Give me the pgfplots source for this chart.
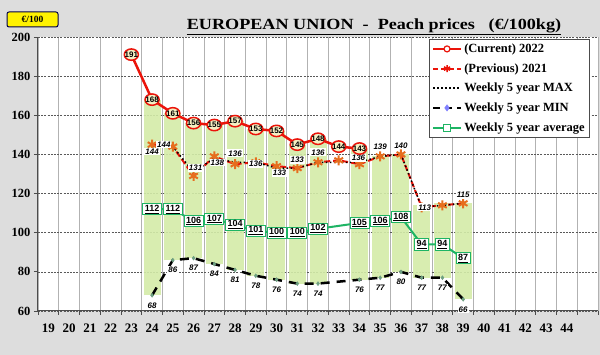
\documentclass[border=0pt]{standalone}
\usepackage{fontspec}
\setmainfont{Liberation Serif}
\newfontfamily\arial{Liberation Sans}
\usepackage{graphicx}
\usepackage{pgfplots}
\pgfplotsset{compat=1.18}
\definecolor{bg}{RGB}{221,221,221}
\definecolor{curred}{RGB}{235,20,10}
\definecolor{mfill}{RGB}{245,240,195}
\definecolor{prevorange}{RGB}{230,110,30}
\definecolor{avggreen}{RGB}{30,180,100}
\definecolor{bargreen}{RGB}{212,236,168}
\definecolor{mindiam}{RGB}{110,160,130}
\begin{document}
\begin{tikzpicture}
\fill[bg] (0,0) rectangle (600pt,355pt);
\useasboundingbox (0,0) rectangle (600pt,355pt);
\begin{axis}[
  at={(38pt,44pt)}, anchor=south west,
  scale only axis, width=560pt, height=274pt,
  xmin=18.5, xmax=45.5, ymin=60, ymax=200,
  axis background/.style={fill=white},
  axis x line*=bottom, axis y line*=left,
  axis line style={-, black!70, line width=1pt},
  xtick={18.5,19.5,...,45.5},
  xticklabels={19,20,21,22,23,24,25,26,27,28,29,30,31,32,33,34,35,36,37,38,39,40,41,42,43,44,{},{}},
  x tick label style={xshift=10.375pt, yshift=-5pt, font=\fontsize{13}{13}\selectfont\bfseries},
  y tick label style={font=\fontsize{12.5}{13}\selectfont\bfseries},
  ytick={60,80,...,200},
  tick align=outside, major tick length=4pt,
  tick style={black!70, line width=0.8pt},
  xmajorgrids, ymajorgrids,
  x grid style={black!30, line width=0.8pt, solid},
  y grid style={black!65, line width=0.6pt, dash pattern=on 2pt off 1.2pt},
  /pgf/number format/assume math mode=true,
  legend style={at={(0.698,0.993)}, anchor=north west, draw=black!70, line width=0.8pt, fill=white,
    font=\fontsize{12.5}{13}\selectfont\bfseries, row sep=5.5pt, inner sep=2.5pt},
  legend cell align=left,
  legend image code/.code={\draw[mark repeat=2,mark phase=2,#1] plot coordinates {(0pt,0pt)(14pt,0pt)(28pt,0pt)};},
]
% green min-max bars
\addplot[forget plot, draw=none, mark=none,
  error bars/.cd, y dir=plus, y explicit, error mark=none,
  error bar style={draw=bargreen, line width=17pt, opacity=0.9}]
coordinates {
(24,68) +- (0,100)
(25,86) +- (0,75)
(26,87) +- (0,69)
(27,84) +- (0,71)
(28,81) +- (0,76)
(29,78) +- (0,75)
(30,76) +- (0,76)
(31,74) +- (0,71)
(32,74) +- (0,74)
(34,76) +- (0,67)
(35,77) +- (0,62)
(36,80) +- (0,60)
(37,77) +- (0,37)
(38,77) +- (0,38)
(39,66) +- (0,49)
};
% average
\addplot[forget plot, avggreen, line width=2pt, mark=square*, mark size=4pt,
  mark options={fill=white, draw=avggreen, line width=1pt},
  nodes near coords={\underline{\pgfmathprintnumber{\pgfplotspointmeta}}},
  nodes near coords style={anchor=center, fill=white, draw=avggreen, line width=0.9pt,
    inner xsep=2pt, inner ysep=1.5pt, text=black, font=\arial\bfseries\fontsize{9}{9}\selectfont}]
coordinates {(24,112)(25,112)(26,106)(27,107)(28,104)(29,101)(30,100)(31,100)(32,102)(34,105)(35,106)(36,108)(37,94)(38,94)(39,87)};
% min
\addplot[forget plot, black, line width=2.5pt, dash pattern=on 9pt off 7pt, mark=diamond*, mark size=2pt,
  mark options={solid, fill=mindiam, draw=mindiam, line width=0.4pt},
  nodes near coords,
  nodes near coords style={anchor=center, yshift=-10pt, fill=white, inner sep=1pt, text=black,
    font=\arial\bfseries\itshape\fontsize{8}{8}\selectfont}]
coordinates {(24,68)(25,86)(26,87)(27,84)(28,81)(29,78)(30,76)(31,74)(32,74)(34,76)(35,77)(36,80)(37,77)(38,77)(39,66)};
% previous 2021
\addplot[forget plot, curred, line width=2pt, dash pattern=on 6pt off 3pt, mark=asterisk, mark size=5pt,
  mark options={solid, prevorange, line width=2pt}]
coordinates {(24,145)(25,144)(26,129)(27,139)(28,135)(29,136)(30,134)(31,133)(32,136)(33,137)(34,135)(35,139)(36,140)(37,113)(38,114)(39,115)};
% max
\addplot[forget plot, black, line width=1.5pt, dash pattern=on 1.5pt off 2.5pt, mark=none,
  point meta=explicit symbolic, nodes near coords,
  visualization depends on={\thisrow{dx} \as \dx},
  visualization depends on={\thisrow{dy} \as \dy},
  nodes near coords style={anchor=center, xshift=\dx pt, yshift=\dy pt, fill=white, inner sep=1pt, text=black,
    font=\arial\bfseries\itshape\fontsize{8}{8}\selectfont}]
table[x=x, y=y, meta=lab] {
x y dx dy lab
24 144 0 -5 144
25 144 -9 2 144
26 131 2 4 131
27 138 3 -4 138
28 136 0 9 136
29 136 0 -1.5 136
30 133 3 -5 133
31 133 0 8 133
32 136 0 10 136
34 136 -1 4.5 136
35 139 0 10 139
36 140 0 9 140
37 113 3 0 113
39 115 0 8.5 115
};
% current 2022
\addplot[forget plot, curred, line width=2.5pt, mark=*, mark size=6.3pt,
  mark options={fill=mfill, draw=curred, line width=1.5pt, xscale=1.12, yscale=0.9},
  nodes near coords,
  nodes near coords style={anchor=center, text=black, inner sep=0pt, font=\arial\bfseries\fontsize{8}{8}\selectfont}]
coordinates {(23,191)(24,168)(25,161)(26,156)(27,155)(28,157)(29,153)(30,152)(31,145)(32,148)(33,144)(34,143)};
% legend
\addlegendimage{curred, line width=2pt, mark=*, mark size=3pt, mark options={fill=white, draw=curred, line width=1.2pt}}
\addlegendentry{(Current) 2022}
\addlegendimage{curred, line width=2pt, dash pattern=on 5pt off 3pt, mark=asterisk, mark size=3.5pt, mark options={solid, curred, line width=1.5pt}}
\addlegendentry{(Previous) 2021}
\addlegendimage{black, line width=1.5pt, dash pattern=on 1.5pt off 2.5pt}
\addlegendentry{Weekly 5 year MAX}
\addlegendimage{black, line width=2.5pt, dash pattern=on 7pt off 5pt, mark=diamond*, mark size=1.5pt, mark options={solid, fill=blue!50, draw=blue!50}}
\addlegendentry{Weekly 5 year MIN}
\addlegendimage{avggreen, line width=2pt, mark=square*, mark size=3.5pt, mark options={fill=white, draw=avggreen, line width=1pt}}
\addlegendentry{Weekly 5 year average}
\end{axis}
\node[font=\fontsize{15.5}{16}\selectfont\bfseries] at (374pt,328pt) {\scalebox{1.17}[1]{\underline{EUROPEAN UNION\ \ -\ \ Peach prices\ \ \ (€/100kg)}}};
\node[draw=blue!30!black, fill=yellow, rounded corners=2pt, line width=1pt, minimum width=51pt, minimum height=15pt, inner sep=0pt, font=\fontsize{9.5}{10}\selectfont\bfseries] at (32.5pt,335.5pt) {€/100};
\end{tikzpicture}
\end{document}
